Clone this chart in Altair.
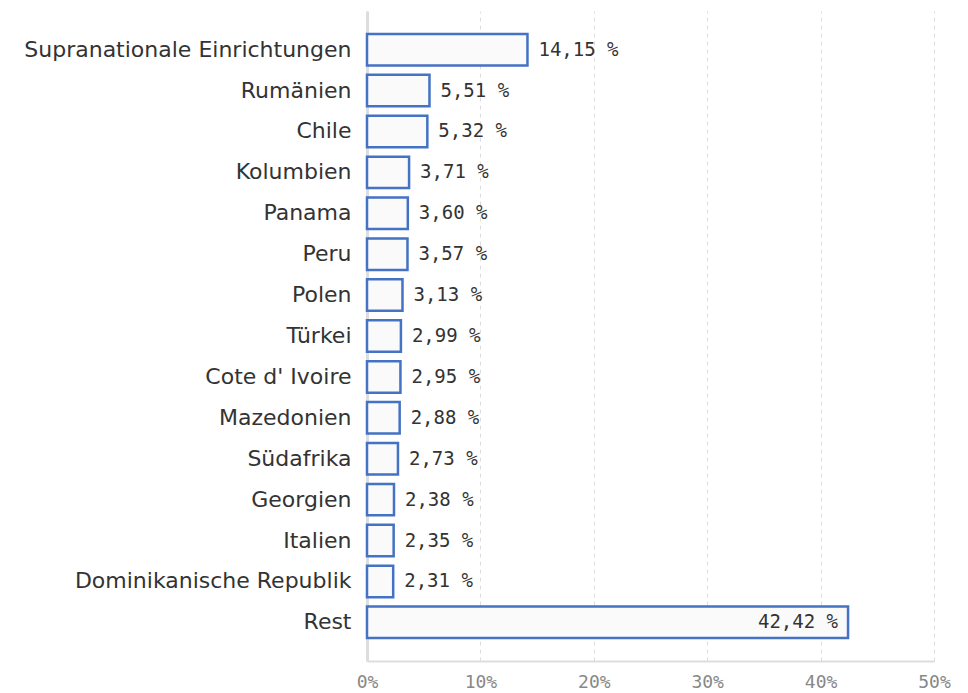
import altair as alt
import pandas as pd

categories = ["Supranationale Einrichtungen", "Rumänien", "Chile", "Kolumbien", "Panama",
              "Peru", "Polen", "Türkei", "Cote d' Ivoire", "Mazedonien", "Südafrika",
              "Georgien", "Italien", "Dominikanische Republik", "Rest"]
values = [14.15, 5.51, 5.32, 3.71, 3.60, 3.57, 3.13, 2.99, 2.95, 2.88, 2.73, 2.38, 2.35, 2.31, 42.42]
x_ticks = [0, 10, 20, 30, 40, 50]

df = pd.DataFrame({
    "cat": categories,
    "val": values,
    "label": [f"{v:.2f}".replace(".", ",") + " %" for v in values],
    "inside": [v > 30 for v in values],
})

y_enc = alt.Y("cat:N", sort=categories, title=None,
              scale=alt.Scale(paddingInner=0.23, paddingOuter=0.56),
              axis=alt.Axis(labelFont="DejaVu Sans", labelFontSize=22, labelColor="#333333",
                            labelPadding=16, ticks=False, domain=True, domainColor="#dddddd",
                            domainWidth=3, labelLimit=400))
x_enc = alt.X("val:Q", title=None, scale=alt.Scale(domain=[0, 50], nice=False),
              axis=alt.Axis(values=x_ticks, labelExpr="datum.value + '%'",
                            labelFont="DejaVu Sans Mono", labelFontSize=18, labelColor="#888888",
                            labelPadding=12, labelFlush=False, ticks=False, grid=True,
                            gridDash=[4, 4], gridColor="#dddddd", domainColor="#dddddd",
                            domainWidth=2))

bars = alt.Chart(df).mark_bar(fill="#fafafa", stroke="#4472c4", strokeWidth=2.5).encode(
    x=x_enc, y=y_enc)

txt_out = alt.Chart(df).transform_filter("!datum.inside").mark_text(
    align="left", dx=11, font="DejaVu Sans Mono", fontSize=19, color="#333333").encode(
    x="val:Q", y=alt.Y("cat:N", sort=categories), text="label:N")
txt_in = alt.Chart(df).transform_filter("datum.inside").mark_text(
    align="right", dx=-10, font="DejaVu Sans Mono", fontSize=19, color="#333333").encode(
    x="val:Q", y=alt.Y("cat:N", sort=categories), text="label:N")

chart = (bars + txt_out + txt_in).properties(
    width=567, height=650, background="white",
    padding={"left": 15, "top": 3, "right": 5, "bottom": 5},
).configure_view(stroke=None)

chart.save("out.html", embed_options={"renderer": "svg", "actions": False})
